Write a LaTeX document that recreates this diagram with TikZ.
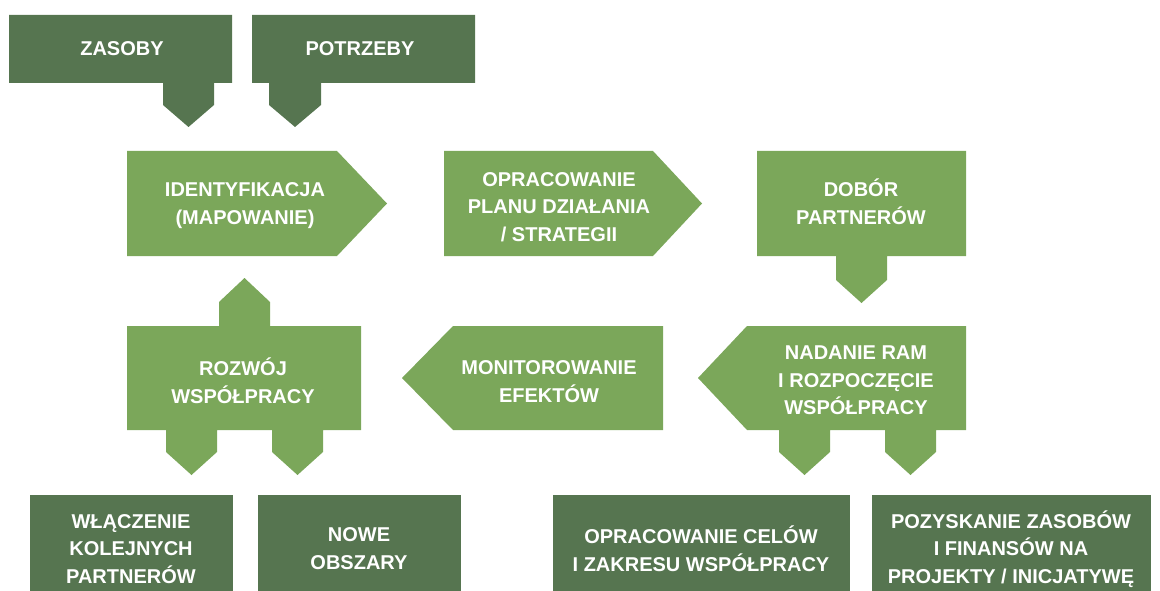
\documentclass[tikz,border=0pt]{standalone}
\usepackage{fontspec}
\setmainfont{Liberation Sans}
\definecolor{darkg}{RGB}{86,117,80}
\definecolor{lightg}{RGB}{123,167,90}
\tikzset{
  darkshape/.style={fill=darkg, draw=none},
  lightshape/.style={fill=lightg, draw=none},
  lbl/.style={text=white, align=center, inner sep=0pt,
    font=\fontsize{20}{27.5}\selectfont\bfseries},
}
\begin{document}
\begin{tikzpicture}[x=1pt,y=-1pt]
\useasboundingbox (0,0) rectangle (1160,591);
% top dark boxes
\path[darkshape] (9,15) -- (232,15) -- (232,83) -- (214,83) -- (214,105) -- (188.5,127) -- (163,105) -- (163,83) -- (9,83) -- cycle;
\path[darkshape] (252,15) -- (475,15) -- (475,83) -- (321,83) -- (321,105) -- (295,127) -- (269,105) -- (269,83) -- (252,83) -- cycle;
% row 1
\path[lightshape] (127,151) -- (337,151) -- (387,203.5) -- (337,256) -- (127,256) -- cycle;
\path[lightshape] (444,151) -- (653,151) -- (702,203.5) -- (653,256) -- (444,256) -- cycle;
\path[lightshape] (757,151) -- (966,151) -- (966,256) -- (887,256) -- (887,280) -- (861.5,303) -- (836,280) -- (836,256) -- (757,256) -- cycle;
% row 2
\path[lightshape] (747,326) -- (966,326) -- (966,430) -- (936,430) -- (936,452) -- (910.5,475) -- (885,452) -- (885,430) -- (830,430) -- (830,452) -- (804.5,475) -- (779,452) -- (779,430) -- (747,430) -- (698,378) -- cycle;
\path[lightshape] (453,326) -- (663,326) -- (663,430) -- (453,430) -- (402,378) -- cycle;
\path[lightshape] (127,326) -- (219,326) -- (219,302) -- (244.5,278) -- (270,302) -- (270,326) -- (361,326) -- (361,430) -- (323,430) -- (323,452) -- (297.5,475) -- (272,452) -- (272,430) -- (217,430) -- (217,452) -- (191.5,475) -- (166,452) -- (166,430) -- (127,430) -- cycle;
% bottom dark boxes
\path[darkshape] (30,495) rectangle (233,591);
\path[darkshape] (258,495) rectangle (461,591);
\path[darkshape] (553,495) rectangle (850,591);
\path[darkshape] (872,495) rectangle (1151,591);
% labels
\node[lbl] (zasoby) at (122,49) {ZASOBY};
\node[lbl] (potrzeby) at (360,49) {POTRZEBY};
\node[lbl] (ident) at (245,205.5) {IDENTYFIKACJA\\(MAPOWANIE)};
\node[lbl] (plan) at (559,207) {OPRACOWANIE\\PLANU DZIAŁANIA\\/ STRATEGII};
\node[lbl] (dobor) at (861,201.5) {DOBÓR\\PARTNERÓW};
\node[lbl] (nadanie) at (856,380.5) {NADANIE RAM\\I ROZPOCZĘCIE\\WSPÓŁPRACY};
\node[lbl] (monit) at (549,381.5) {MONITOROWANIE\\EFEKTÓW};
\node[lbl] (rozwoj) at (243,380.5) {ROZWÓJ\\WSPÓŁPRACY};
\node[lbl] (wlacz) at (131,549) {WŁĄCZENIE\\KOLEJNYCH\\PARTNERÓW};
\node[lbl] (nowe) at (359,548.5) {NOWE\\OBSZARY};
\node[lbl] (cele) at (701,548.5) {OPRACOWANIE CELÓW\\I ZAKRESU WSPÓŁPRACY};
\node[lbl] (zasobyfin) at (1011,549) {POZYSKANIE ZASOBÓW\\I FINANSÓW NA\\PROJEKTY / INICJATYWĘ};
\end{tikzpicture}
\end{document}
